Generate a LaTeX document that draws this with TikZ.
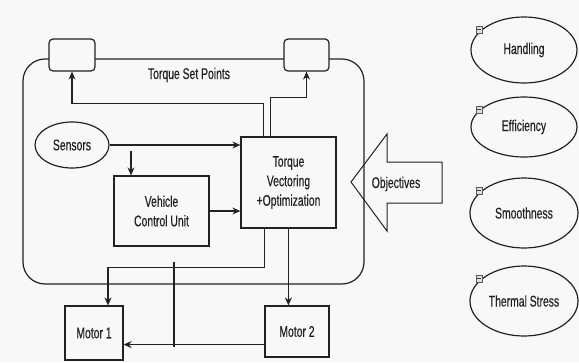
\documentclass[tikz,border=0pt]{standalone}
\usepackage{fontspec}
\setmainfont{Liberation Sans}[FakeStretch=0.67,FakeBold=0.4]
\usetikzlibrary{arrows.meta,shapes.geometric,calc}
\definecolor{bgc}{RGB}{248,248,248}
\definecolor{ink}{RGB}{34,34,34}
\tikzset{
  lbl/.style={font=\fontsize{15.5}{19.5}\selectfont, text=ink, align=center},
  box/.style={lbl, draw=ink, line width=1.2pt, fill=bgc, inner sep=0pt},
  rbox/.style={box, rounded corners=4pt},
  oval/.style={lbl, ellipse, draw=ink, line width=1.2pt, inner sep=0pt},
  link/.style={draw=ink, line width=1.2pt},
  arr/.style={link, -{Stealth[length=8pt,width=7pt]}},
  icon/.style={draw=gray!70!black, fill=gray!25, line width=0.5pt,
    minimum width=6pt, minimum height=7pt, inner sep=0pt,
    path picture={\draw[gray!50!black,line width=0.6pt]
      ([xshift=1.2pt]path picture bounding box.west) --
      ([xshift=-1.2pt]path picture bounding box.east);}}
}
\begin{document}
\begin{tikzpicture}[x=1pt,y=-1pt]
\fill[bgc] (0,0) rectangle (579,362);
\useasboundingbox (0,0) rectangle (579,362);

% vehicle frame
\draw[link, rounded corners=22pt] (23,59) rectangle (364,284);

% set-point boxes on the frame
\node[rbox, minimum width=46pt, minimum height=32pt] (sp1) at (72,55) {};
\node[rbox, minimum width=45pt, minimum height=32pt] (sp2) at (306.5,55) {};
\node[lbl] (tsp) at (189,75) {Torque Set Points};

% blocks
\node[oval, minimum width=74pt, minimum height=46pt] (sens) at (72,145) {Sensors};
\node[box, minimum width=95pt, minimum height=91pt] (tv) at (288.5,182.5)
  {Torque\\Vectoring\\+Optimization};
\node[box, minimum width=95pt, minimum height=70pt] (vcu) at (161.5,211)
  {Vehicle\\Control Unit};
\node[box, minimum width=58pt, minimum height=54pt] (m1) at (94,333) {Motor 1};
\node[box, minimum width=64pt, minimum height=51pt] (m2) at (297,331.5) {Motor 2};

% objectives arrow
\draw[link, line width=1pt] (351,182) -- (387,134) -- (387,162) -- (442,162)
  -- (442,203) -- (387,203) -- (387,231) -- cycle;
\node[lbl] (obj) at (396,184) {Objectives};

% objectives list
\node[oval, minimum width=106pt, minimum height=66pt] (hand) at (524,50) {Handling};
\node[oval, minimum width=106pt, minimum height=60pt] (eff) at (524,127) {Efficiency};
\node[oval, minimum width=108pt, minimum height=70pt] (smo) at (524,213) {Smoothness};
\node[oval, minimum width=108pt, minimum height=70pt] (ths) at (524,301) {Thermal Stress};
\node[icon] (i1) at (479,29.5) {};
\node[icon] (i2) at (479,109.5) {};
\node[icon] (i3) at (479,190.5) {};
\node[icon] (i4) at (479,278.5) {};

% connectors
\draw[arr] (sens.east) -- (sens.east -| tv.west);
\coordinate (sdrop) at (131,151);
\draw[arr] (sdrop) -- (sdrop |- vcu.north);
\draw[arr] (vcu.east) -- (vcu.east -| tv.west);

\coordinate (t1) at ([xshift=23pt]tv.north west);
\coordinate (t2) at ([xshift=30pt]tv.north west);
\draw[arr] (t1) -- ++(0,-33) -| (sp1.south);
\draw[arr] (t2) -- ++(0,-39) -| (sp2.south);

\coordinate (t3) at ([xshift=24pt]tv.south west);
\coordinate (t4) at ([xshift=48pt]tv.south west);
\coordinate (m1in) at ([xshift=14pt]m1.north);
\draw[arr] (t3) -- ++(0,39) -| (m1in);
\draw[arr] (t4) -- (t4 |- m2.north);

\coordinate (m2l) at ([yshift=13pt]m2.south west);
\draw[arr] (m2l) -- (m2l -| m1.east);
\coordinate (va) at (174,262);
\coordinate (vb) at (174,347);
\draw[link] (va) -- (vb);
\end{tikzpicture}
\end{document}
